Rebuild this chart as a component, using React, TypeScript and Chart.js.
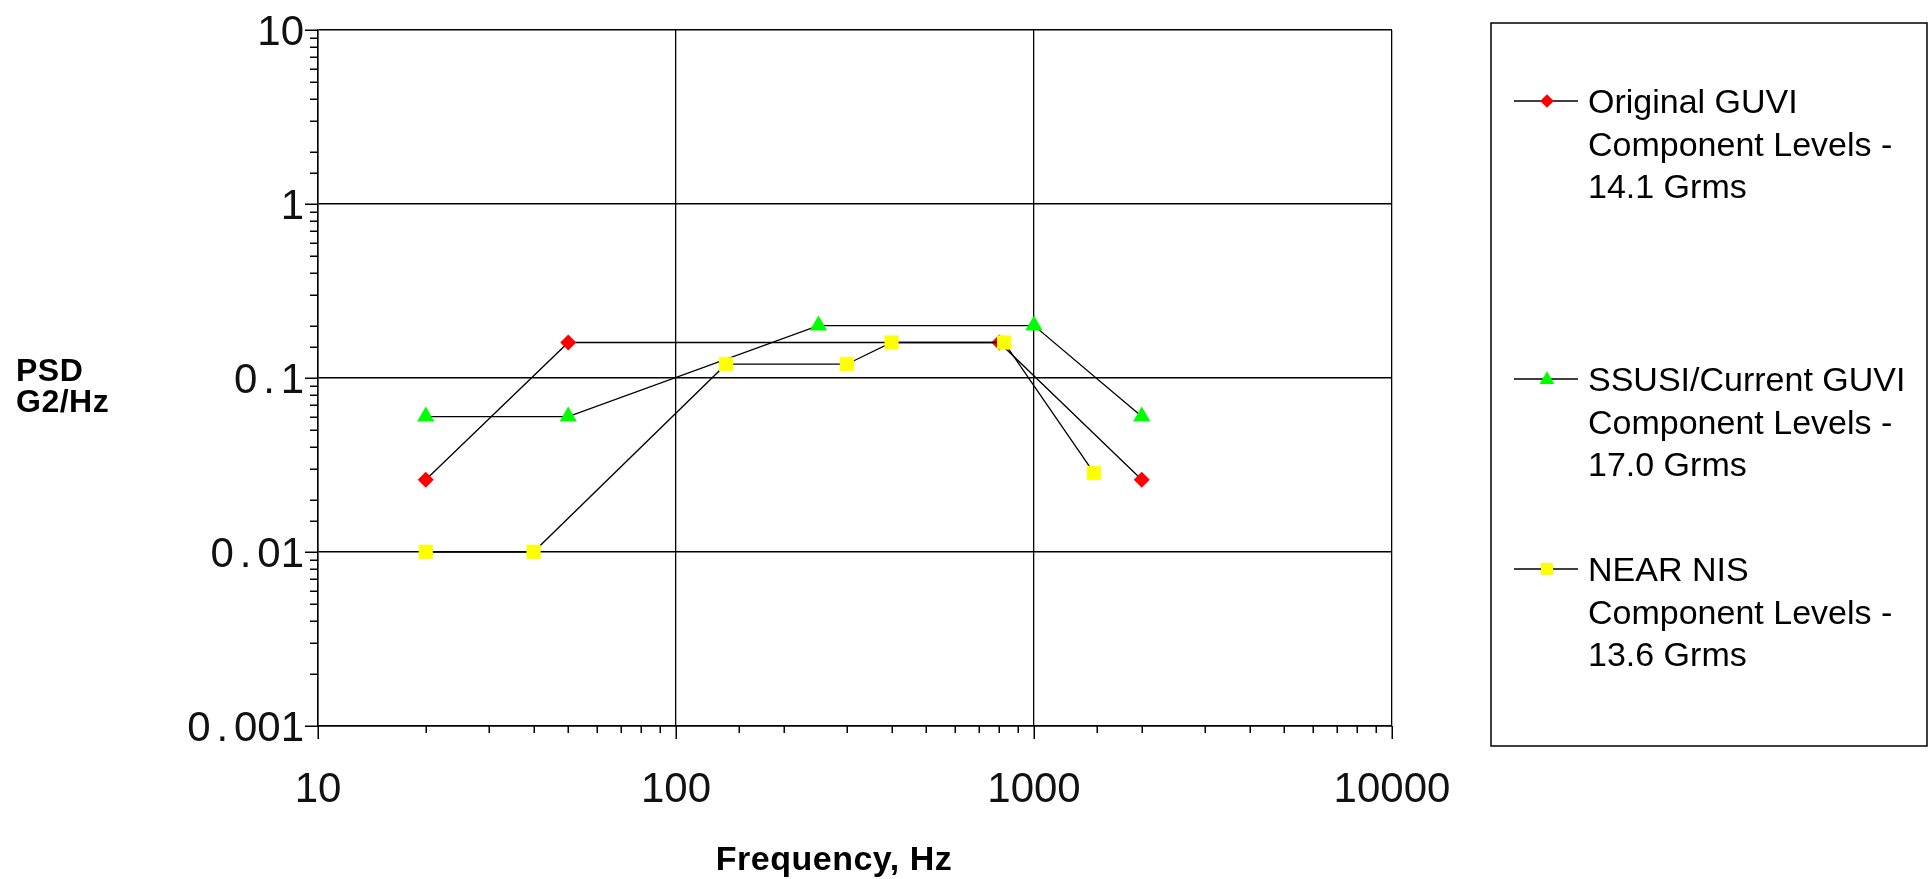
import React, { useEffect, useRef } from 'react';
import { Chart, registerables } from 'chart.js';

Chart.register(...registerables);

// ---- data ----
const seriesNames = [
  'Original GUVI\nComponent Levels -\n14.1 Grms',
  'SSUSI/Current GUVI\nComponent Levels -\n17.0 Grms',
  'NEAR NIS\nComponent Levels -\n13.6 Grms',
];
const freqOriginal = [20, 50, 800, 2000];
const psdOriginal = [0.026, 0.16, 0.16, 0.026];
const freqSsusi = [20, 50, 250, 1000, 2000];
const psdSsusi = [0.06, 0.06, 0.2, 0.2, 0.06];
const freqNear = [20, 40, 138, 300, 400, 825, 1470];
const psdNear = [0.01, 0.01, 0.12, 0.12, 0.16, 0.16, 0.0285];
const yTickLabels = ['0.001', '0.01', '0.1', '1', '10'];
const xTickLabels = ['10', '100', '1000', '10000'];
const xTitle = 'Frequency, Hz';
const yTitleLines = ['PSD', 'G2/Hz'];

const seriesColors = ['#FF0000', '#00FF00', '#FFFF00'];
const seriesMarkers = ['rectRot', 'triangle', 'rect'];
const seriesRadius = [8, 10, 10];

const findLabel = (labels: string[], v: number) =>
  labels.find((l) => Math.abs(Number(l) - v) / v < 1e-6);

const FONT = '"Liberation Sans", Arial, sans-serif';

function drawMarker(ctx: CanvasRenderingContext2D, style: string, x: number, y: number, r: number, color: string) {
  ctx.save();
  ctx.fillStyle = color;
  ctx.beginPath();
  if (style === 'rectRot') {
    ctx.moveTo(x, y - r);
    ctx.lineTo(x + r, y);
    ctx.lineTo(x, y + r);
    ctx.lineTo(x - r, y);
  } else if (style === 'triangle') {
    const h = r * 1.5;
    ctx.moveTo(x, y - h * 0.6);
    ctx.lineTo(x + r * 0.87, y + h * 0.4);
    ctx.lineTo(x - r * 0.87, y + h * 0.4);
  } else {
    const s = r * Math.SQRT1_2;
    ctx.rect(x - s, y - s, 2 * s, 2 * s);
  }
  ctx.closePath();
  ctx.fill();
  ctx.restore();
}

// draws a right-aligned label where the decimal point takes a digit-wide cell
function drawWideLabel(ctx: CanvasRenderingContext2D, text: string, right: number, y: number) {
  const digitW = ctx.measureText('0').width;
  const parts = text.split('');
  let x = right;
  ctx.textAlign = 'right';
  for (let i = parts.length - 1; i >= 0; i--) {
    const ch = parts[i];
    if (ch === '.') {
      ctx.textAlign = 'center';
      ctx.fillText(ch, x - digitW * 0.5, y);
      ctx.textAlign = 'right';
      x -= digitW;
    } else {
      ctx.fillText(ch, x, y);
      x -= ctx.measureText(ch).width;
    }
  }
}

const overlay = {
  id: 'overlay',
  afterDraw(chart: any) {
    const ctx: CanvasRenderingContext2D = chart.ctx;
    const { left, bottom } = chart.chartArea;
    const xs = chart.scales.x;
    const ys = chart.scales.y;
    ctx.save();
    ctx.strokeStyle = '#000';
    ctx.lineWidth = 1.5;
    // tick marks
    ys.ticks.forEach((t: any) => {
      const py = Math.round(ys.getPixelForValue(t.value)) + 0.25;
      const major = !!findLabel(yTickLabels, t.value);
      ctx.beginPath();
      ctx.moveTo(left - (major ? 13 : 8), py);
      ctx.lineTo(left, py);
      ctx.stroke();
    });
    xs.ticks.forEach((t: any) => {
      const px = Math.round(xs.getPixelForValue(t.value)) + 0.25;
      const major = !!findLabel(xTickLabels, t.value);
      ctx.beginPath();
      ctx.moveTo(px, bottom);
      ctx.lineTo(px, bottom + (major ? 13 : 7));
      ctx.stroke();
    });
    // tick labels
    ctx.fillStyle = '#111';
    ctx.font = `42px ${FONT}`;
    ctx.textBaseline = 'alphabetic';
    ys.ticks.forEach((t: any) => {
      const lab = findLabel(yTickLabels, t.value);
      if (!lab) return;
      drawWideLabel(ctx, lab, 304, ys.getPixelForValue(t.value) + 15);
    });
    ctx.textAlign = 'center';
    xs.ticks.forEach((t: any) => {
      const lab = findLabel(xTickLabels, t.value);
      if (!lab) return;
      ctx.fillText(lab, xs.getPixelForValue(t.value), 802);
    });
    // axis titles
    ctx.fillStyle = '#000';
    ctx.font = `bold 34px ${FONT}`;
    ctx.textAlign = 'center';
    (ctx as any).letterSpacing = '0.5px';
    ctx.fillText(xTitle, 834, 870);
    ctx.font = `bold 32px ${FONT}`;
    ctx.textAlign = 'left';
    yTitleLines.forEach((l, i) => ctx.fillText(l, 16, 381 + i * 31));
    (ctx as any).letterSpacing = '0px';
    // legend
    ctx.lineWidth = 1.5;
    ctx.strokeStyle = '#000';
    ctx.strokeRect(1491, 23, 436, 723);
    const centers = [101, 379, 569];
    chart.data.datasets.forEach((ds: any, i: number) => {
      const cy = centers[i];
      ctx.lineWidth = 1.5;
      ctx.beginPath();
      ctx.moveTo(1514, cy);
      ctx.lineTo(1578, cy);
      ctx.stroke();
      drawMarker(ctx, seriesMarkers[i], 1547, cy, seriesRadius[i] * 0.85, seriesColors[i]);
      ctx.fillStyle = '#000';
      ctx.font = `34px ${FONT}`;
      ctx.textAlign = 'left';
      String(ds.label).split('\n').forEach((line, j) => {
        ctx.fillText(line, 1588, cy + 12 + j * 42.5);
      });
    });
    ctx.restore();
  },
};

export default function App() {
  const ref = useRef<HTMLCanvasElement | null>(null);
  useEffect(() => {
    if (!ref.current) return;
    const mk = (fs: number[], ps: number[]) => fs.map((f, i) => ({ x: f, y: ps[i] }));
    const series = [mk(freqOriginal, psdOriginal), mk(freqSsusi, psdSsusi), mk(freqNear, psdNear)];
    const chart = new Chart(ref.current, {
      type: 'line',
      data: {
        datasets: series.map((d, i) => ({
          label: seriesNames[i],
          data: d,
          borderColor: '#000',
          borderWidth: 1.3,
          backgroundColor: seriesColors[i],
          pointBackgroundColor: seriesColors[i],
          pointBorderColor: seriesColors[i],
          pointBorderWidth: 0,
          pointStyle: seriesMarkers[i] as any,
          pointRadius: seriesRadius[i],
          pointHoverRadius: seriesRadius[i],
          fill: false,
          tension: 0,
          order: 2 - i,
        })),
      },
      options: {
        animation: false,
        responsive: false,
        events: [],
        layout: { padding: { left: 0, top: 30, right: 538, bottom: 53 } },
        plugins: { legend: { display: false }, tooltip: { enabled: false } },
        scales: {
          x: {
            type: 'logarithmic',
            min: 10,
            max: 10000,
            afterFit: (s: any) => { s.height = 100; },
            ticks: { display: false, autoSkip: false },
            grid: {
              drawTicks: false,
              lineWidth: 1.3,
              color: (c: any) => (c.tick && findLabel(xTickLabels, c.tick.value) ? '#000' : 'rgba(0,0,0,0)'),
            },
            border: { display: true, color: '#000', width: 1.5 },
          },
          y: {
            type: 'logarithmic',
            min: 0.001,
            max: 10,
            afterFit: (s: any) => { s.width = 318; },
            ticks: { display: false, autoSkip: false },
            grid: {
              drawTicks: false,
              lineWidth: 1.6,
              color: (c: any) => (c.tick && findLabel(yTickLabels, c.tick.value) ? '#000' : 'rgba(0,0,0,0)'),
            },
            border: { display: true, color: '#000', width: 1.5 },
          },
        },
      },
      plugins: [overlay],
    } as any);
    return () => chart.destroy();
  }, []);
  return (
    <div style={{ position: 'fixed', left: 0, top: 0, width: 1930, height: 879, background: '#fff' }}>
      <canvas ref={ref} width={1930} height={879} style={{ display: 'block', width: 1930, height: 879 }} />
    </div>
  );
}
